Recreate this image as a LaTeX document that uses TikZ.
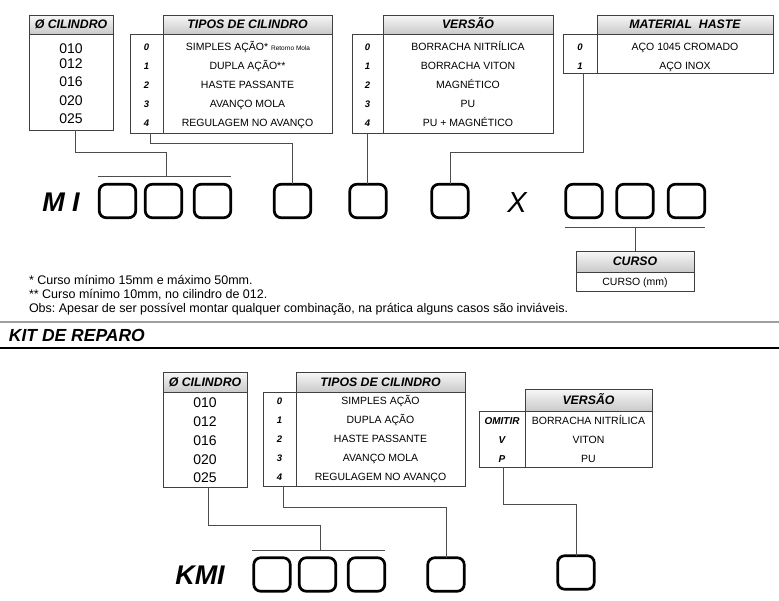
\documentclass[tikz,border=0pt]{standalone}
\usepackage{fontspec}
\setmainfont{Liberation Sans}
\frenchspacing
\begin{document}
\begin{tikzpicture}[x=1pt,y=-1pt,
  every node/.style={inner sep=0pt, outer sep=0pt},
  tbox/.style={draw=black!75, line width=0.9pt, fill=white, anchor=north west},
  hbox/.style={draw=black!75, line width=0.9pt, top color=gray!6, bottom color=gray!42, anchor=north west, font=\fontsize{12.3}{14}\selectfont\bfseries\itshape, text height=8.8pt, text depth=0pt},
  rowtxt/.style={font=\fontsize{10.5}{12}\selectfont, text height=7.5pt, text depth=0pt},
  numtxt/.style={font=\fontsize{9.5}{11}\selectfont\bfseries\itshape, text height=6.8pt, text depth=0pt},
  verntxt/.style={font=\fontsize{10}{11}\selectfont\bfseries\itshape, text height=7.2pt, text depth=0pt},
  diatxt/.style={font=\fontsize{14}{16}\selectfont, text height=10pt, text depth=0pt},
  slot/.style={draw=black, line width=2.7pt, rounded corners=7pt, minimum width=36.5pt, minimum height=33.5pt},
  conn/.style={draw=black!70, line width=0.9pt},
  bigtxt/.style={font=\fontsize{27}{30}\selectfont\bfseries\itshape, text height=19.4pt, text depth=0pt},
  notetxt/.style={anchor=west, font=\fontsize{12.5}{14}\selectfont, text height=9pt, text depth=0pt},
]
\useasboundingbox (0,0) rectangle (779,600);

% ---------- top: Ø CILINDRO ----------
\node[hbox, minimum width=84pt, minimum height=19pt] (cilH) at (29,15) {Ø CILINDRO};
\node[tbox, minimum width=84pt, minimum height=96pt] (cilB) at (29,34) {};
\node[diatxt] (c1) at (71,48) {010};
\node[diatxt] (c2) at (71,63) {012};
\node[diatxt] (c3) at (71,81) {016};
\node[diatxt] (c4) at (71,100) {020};
\node[diatxt] (c5) at (71,118.5) {025};

% ---------- top: TIPOS ----------
\node[hbox, minimum width=169pt, minimum height=19pt] (tipH) at (163,15) {TIPOS DE CILINDRO};
\node[tbox, minimum width=33pt, minimum height=99pt] (tipN) at (130,34) {};
\node[tbox, minimum width=169pt, minimum height=99pt] (tipB) at (163,34) {};
\node[numtxt] (tn0) at (146.5,47) {0};
\node[numtxt] (tn1) at (146.5,66) {1};
\node[numtxt] (tn2) at (146.5,85) {2};
\node[numtxt] (tn3) at (146.5,104) {3};
\node[numtxt] (tn4) at (146.5,123) {4};
\node[rowtxt] (tt0) at (248,47) {SIMPLES AÇÃO* {\fontsize{6.5}{7}\selectfont Retorno Mola}};
\node[rowtxt] (tt1) at (247.5,66) {DUPLA AÇÃO**};
\node[rowtxt] (tt2) at (247.5,85) {HASTE PASSANTE};
\node[rowtxt] (tt3) at (247.5,104) {AVANÇO MOLA};
\node[rowtxt] (tt4) at (247.5,123) {REGULAGEM NO AVANÇO};

% ---------- top: VERSÃO ----------
\node[hbox, minimum width=170pt, minimum height=19pt] (verH) at (383,15) {VERSÃO};
\node[tbox, minimum width=31pt, minimum height=99pt] (verN) at (352,34) {};
\node[tbox, minimum width=170pt, minimum height=99pt] (verB) at (383,34) {};
\node[numtxt] (vn0) at (367.5,47) {0};
\node[numtxt] (vn1) at (367.5,66) {1};
\node[numtxt] (vn2) at (367.5,85) {2};
\node[numtxt] (vn3) at (367.5,104) {3};
\node[numtxt] (vn4) at (367.5,123) {4};
\node[rowtxt] (vt0) at (468,47) {BORRACHA NITRÍLICA};
\node[rowtxt] (vt1) at (468,66) {BORRACHA VITON};
\node[rowtxt] (vt2) at (468,85) {MAGNÉTICO};
\node[rowtxt] (vt3) at (468,104) {PU};
\node[rowtxt] (vt4) at (468,123) {PU + MAGNÉTICO};

% ---------- top: MATERIAL HASTE ----------
\node[hbox, minimum width=176pt, minimum height=19pt] (matH) at (597,15) {MATERIAL\ \ HASTE};
\node[tbox, minimum width=34pt, minimum height=39pt] (matN) at (563,34) {};
\node[tbox, minimum width=176pt, minimum height=39pt] (matB) at (597,34) {};
\node[numtxt] (mn0) at (580,47) {0};
\node[numtxt] (mn1) at (580,66) {1};
\node[rowtxt] (mt0) at (685,47) {AÇO 1045 CROMADO};
\node[rowtxt] (mt1) at (685,66) {AÇO INOX};

% ---------- top code ----------
\node[bigtxt] (mi) at (61,202) {M I};
\node[slot] (s1) at (117.5,201) {};
\node[slot] (s2) at (163.5,201) {};
\node[slot] (s3) at (212.5,201) {};
\node[slot] (s4) at (292.5,201) {};
\node[slot] (s5) at (368,201) {};
\node[slot] (s6) at (450,201) {};
\node[font=\fontsize{29}{32}\selectfont\itshape, text height=21pt, text depth=0pt] (xx) at (517,202) {X};
\node[slot] (s7) at (584,201) {};
\node[slot] (s8) at (635,201) {};
\node[slot] (s9) at (686.5,201) {};

\coordinate (barAL) at (98,176);
\coordinate (barAR) at (231,176);
\coordinate (barAM) at (166,176);
\draw[conn] (barAL) -- (barAR);
\draw[conn] ([xshift=4pt]cilB.south) -- ++(0,22) -| (barAM);
\draw[conn] ([xshift=3.5pt]tipN.south) -- ++(0,10) -| (s4.north);
\draw[conn] (verN.south) -- (verN.south |- s5.north);
\draw[conn] ([xshift=3pt]matN.south) -- ++(0,79) -| (s6.north);

% ---------- CURSO ----------
\coordinate (barBL) at (565,227);
\coordinate (barBR) at (705,227);
\coordinate (barBM) at (635,227);
\draw[conn] (barBL) -- (barBR);
\node[hbox, minimum width=118pt, minimum height=21pt] (curH) at (576,251) {CURSO};
\node[tbox, minimum width=118pt, minimum height=19pt, rowtxt] (curB) at (576,272) {CURSO (mm)};
\draw[conn] (barBM) -- (curH.north);

% ---------- notes ----------
\node[notetxt] (n1) at (29,280) {* Curso mínimo 15mm e máximo 50mm.};
\node[notetxt] (n2) at (29,294) {** Curso mínimo 10mm, no cilindro de 012.};
\node[notetxt] (n3) at (29,308) {Obs: Apesar de ser possível montar qualquer combinação, na prática alguns casos são inviáveis.};

\draw[gray!75, line width=2.5pt] (0,322) -- (779,322);
\node[anchor=west, font=\fontsize{17.5}{20}\selectfont\bfseries\itshape, text height=12.5pt, text depth=0pt] (kit) at (9,335) {KIT DE REPARO};
\draw[black, line width=2pt] (0,347.5) -- (779,347.5);

% ---------- kit: Ø CILINDRO ----------
\node[hbox, minimum width=84pt, minimum height=20pt] (kcilH) at (163,372) {Ø CILINDRO};
\node[tbox, minimum width=84pt, minimum height=95pt] (kcilB) at (163,392) {};
\node[diatxt] (kc1) at (205,402) {010};
\node[diatxt] (kc2) at (205,421) {012};
\node[diatxt] (kc3) at (205,440) {016};
\node[diatxt] (kc4) at (205,459) {020};
\node[diatxt] (kc5) at (205,477) {025};

% ---------- kit: TIPOS ----------
\node[hbox, minimum width=169pt, minimum height=20pt] (ktipH) at (296,372) {TIPOS DE CILINDRO};
\node[tbox, minimum width=33pt, minimum height=94pt] (ktipN) at (263,392) {};
\node[tbox, minimum width=169pt, minimum height=94pt] (ktipB) at (296,392) {};
\node[numtxt] (ktn0) at (279.5,401) {0};
\node[numtxt] (ktn1) at (279.5,420) {1};
\node[numtxt] (ktn2) at (279.5,439) {2};
\node[numtxt] (ktn3) at (279.5,458) {3};
\node[numtxt] (ktn4) at (279.5,477) {4};
\node[rowtxt] (ktt0) at (380.5,401) {SIMPLES AÇÃO};
\node[rowtxt] (ktt1) at (380.5,420) {DUPLA AÇÃO};
\node[rowtxt] (ktt2) at (380.5,439) {HASTE PASSANTE};
\node[rowtxt] (ktt3) at (380.5,458) {AVANÇO MOLA};
\node[rowtxt] (ktt4) at (380.5,477) {REGULAGEM NO AVANÇO};

% ---------- kit: VERSÃO ----------
\node[hbox, minimum width=127pt, minimum height=22pt] (kverH) at (525,389) {VERSÃO};
\node[tbox, minimum width=46pt, minimum height=56pt] (kverN) at (479,411) {};
\node[tbox, minimum width=127pt, minimum height=56pt] (kverB) at (525,411) {};
\node[verntxt] (kvn0) at (502,421) {OMITIR};
\node[verntxt] (kvn1) at (502,440) {V};
\node[verntxt] (kvn2) at (502,459) {P};
\node[rowtxt] (kvt0) at (588.5,421) {BORRACHA NITRÍLICA};
\node[rowtxt] (kvt1) at (588.5,440) {VITON};
\node[rowtxt] (kvt2) at (588.5,459) {PU};

% ---------- kit code ----------
\node[bigtxt] (kmi) at (200,575) {KMI};
\node[slot] (b1) at (272,574.5) {};
\node[slot] (b2) at (317.5,574.5) {};
\node[slot] (b3) at (366.5,574.5) {};
\node[slot] (b4) at (446,574.5) {};
\node[slot] (b5) at (576,572.5) {};

\coordinate (barCL) at (252,550);
\coordinate (barCR) at (385,550);
\coordinate (barCM) at (320,550);
\draw[conn] (barCL) -- (barCR);
\draw[conn] ([xshift=3pt]kcilB.south) -- ++(0,38) -| (barCM);
\draw[conn] ([xshift=3.5pt]ktipN.south) -- ++(0,21) -| (b4.north);
\draw[conn] ([xshift=1pt]kverN.south) -- ++(0,37) -| (b5.north);
\end{tikzpicture}
\end{document}
